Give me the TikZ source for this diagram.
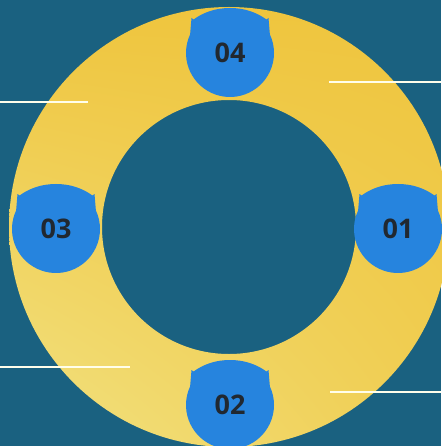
\documentclass[tikz,border=0pt]{standalone}
\usepackage{fontspec}
\setmainfont{Open Sans}
\newfontfamily\numfont{Open Sans}
\usepackage{tikz}
\usetikzlibrary{positioning,calc,shadings}
\definecolor{bgteal}{RGB}{26,97,128}
\definecolor{badgeblue}{RGB}{38,132,222}
\definecolor{ringgold}{RGB}{239,197,62}
\definecolor{ringpale}{RGB}{242,226,130}
\definecolor{numink}{RGB}{33,40,48}
\tikzset{
  numlbl/.style={font=\numfont\bfseries\fontsize{27}{27}\selectfont, text=numink, inner sep=0pt},
  leader/.style={draw=white!92!yellow, line width=1.8pt},
}
% badge: round tab, straight-ish sides, domed top with two small ears
\newcommand\badge[3]{%
  \begin{scope}[shift={#2}, yscale=-1]
    \fill[badgeblue] (155:44) arc[start angle=155, end angle=385, radius=44]
      .. controls (39.5,27) .. (38.5,35) -- (36.5,33.5)
      .. controls (26,41) and (14,45) .. (0,45)
      .. controls (-14,45) and (-26,41) .. (-36.5,33.5) -- (-38.5,35)
      .. controls (-39.5,27) .. cycle;
  \end{scope}
  \node[numlbl] (#1) at #2 {#3};}

\begin{document}
\begin{tikzpicture}[x=1pt, y=-1pt]
  \fill[bgteal] (0,0) rectangle (441,446);
  \useasboundingbox (0,0) rectangle (441,446);
  \coordinate (ctr) at (229,227);
  % ring
  \shade[even odd rule, upper left=ringgold, upper right=ringgold,
         lower left=ringpale, lower right=ringgold!70!ringpale]
    (ctr) circle[radius=220] (ctr) circle[radius=127];
  % leader lines
  \draw[leader] (0,102) -- (88,102);
  \draw[leader] (329,82) -- (441,82);
  \draw[leader] (0,367) -- (130,367);
  \draw[leader] (330,392) -- (441,392);
  % badges
  \badge{b04}{(230,53)}{04}
  \badge{b01}{(398,229)}{01}
  \badge{b03}{(56,229)}{03}
  \badge{b02}{(230,405)}{02}
\end{tikzpicture}
\end{document}
